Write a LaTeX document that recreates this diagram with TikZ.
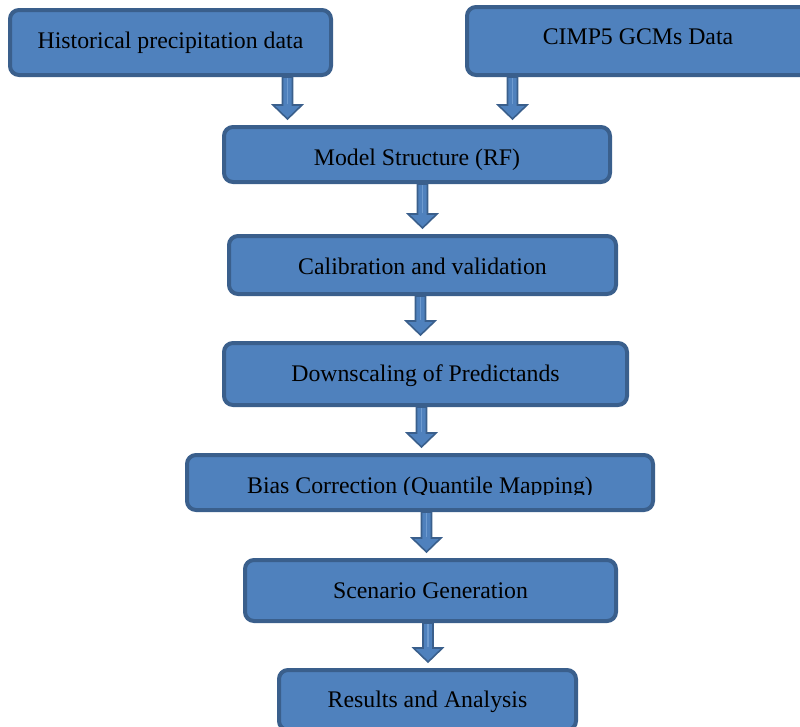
\documentclass[tikz,border=0pt]{standalone}
\usepackage{fontspec}
\setmainfont{Liberation Serif}
\usetikzlibrary{calc}
\definecolor{boxfill}{HTML}{4F81BD}
\definecolor{boxline}{HTML}{3A5F8C}
\definecolor{stripe}{HTML}{6E9BD0}
\newcommand\blkarrow[3]{%
  \draw[barrow] let \p1=(#1.south -| #3,0), \p2=(#2.north -| #3,0) in
    (\x1-5pt,\y1) -- (\x1-5pt,\y2+20pt) -- (\x1-14.5pt,\y2+20pt) -- (\x1,\y2+6pt)
    -- (\x1+14.5pt,\y2+20pt) -- (\x1+5pt,\y2+20pt) -- (\x1+5pt,\y1) -- cycle;
  \draw[stripe, line width=1.6pt] let \p1=(#1.south -| #3,0), \p2=(#2.north -| #3,0) in
    (\x1,\y1-1pt) -- (\x1,\y2+21pt);}
\begin{document}
\begin{tikzpicture}[x=1pt,y=-1pt,
  box/.style={draw=boxline, fill=boxfill, line width=4pt, rounded corners=9pt, inner sep=0pt},
  lbl/.style={font=\fontsize{23.8}{28}\selectfont, text=black, inner sep=0pt, anchor=base},
  barrow/.style={draw=boxline, fill=boxfill, line width=1.6pt, line join=miter}]
\useasboundingbox (0,0) rectangle (800,726);
\clip (0,0) rectangle (800,726);

\node[box, minimum width=321, minimum height=65] (b1) at (170.5,42.5) {};
\node[box, minimum width=342, minimum height=68] (b2) at (638,41) {};
\node[box, minimum width=386, minimum height=55] (b3) at (417,154.5) {};
\node[box, minimum width=387, minimum height=58] (b4) at (422.5,265) {};
\node[box, minimum width=403, minimum height=62] (b5) at (425.5,374) {};
\node[box, minimum width=466, minimum height=55] (b6) at (420,482.5) {};
\node[box, minimum width=371, minimum height=61] (b7) at (430.5,590.5) {};
\node[box, minimum width=297, minimum height=60] (b8) at (427.5,700) {};

\node[lbl] (t1) at (170.5,48) {Historical precipitation data};
\node[lbl] (t2) at (638,44) {CIMP5 GCMs Data};
\node[lbl] (t3) at (417,165) {Model Structure (RF)};
\node[lbl] (t4) at (422.5,274) {Calibration and validation};
\node[lbl] (t5) at (425.5,381) {Downscaling of Predictands};
\coordinate (c6) at (420,493);
\begin{scope}
  \clip ($(c6)+(-230,-35)$) rectangle ($(c6)+(230,1.5)$);
  \node[lbl] (t6) at (c6) {Bias Correction (Quantile Mapping)};
\end{scope}
\node[lbl] (t7) at (430.5,598) {Scenario Generation};
\node[lbl] (t8) at (427.5,707) {Results and Analysis};

\blkarrow{b1}{b3}{287.5}
\blkarrow{b2}{b3}{512.5}
\blkarrow{b3}{b4}{422.5}
\blkarrow{b4}{b5}{420.5}
\blkarrow{b5}{b6}{421.5}
\blkarrow{b6}{b7}{426.5}
\blkarrow{b7}{b8}{428}
\end{tikzpicture}
\end{document}
